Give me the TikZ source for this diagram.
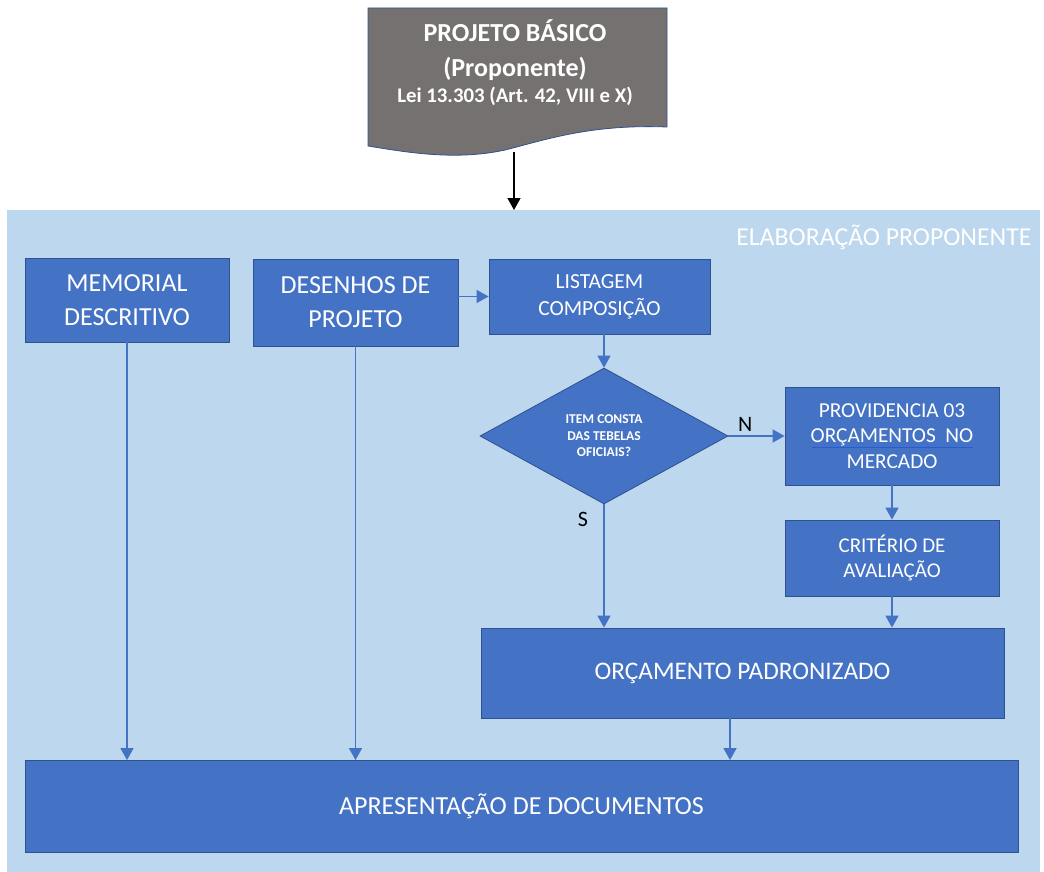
\documentclass[tikz,border=0pt]{standalone}
\usepackage{fontspec}
\setmainfont{Carlito}
\usetikzlibrary{shapes.geometric,arrows.meta}
\definecolor{boxblue}{HTML}{4472C4}
\definecolor{boxline}{HTML}{2F528F}
\definecolor{areablue}{HTML}{BDD7EE}
\definecolor{docgray}{HTML}{767171}
\definecolor{spellblue}{HTML}{2A5BD7}

\begin{document}
\begin{tikzpicture}[x=1pt,y=-1pt,
  blk/.style={draw=boxline,fill=boxblue,text=white,align=center,inner sep=0pt,
    line width=0.8pt,font=\fontsize{26}{34}\selectfont},
  arr/.style={-{Triangle[width=13pt,length=12pt]},color=boxblue,line width=1.4pt},
  lbl/.style={text=black,font=\fontsize{22}{24}\selectfont}]
  \useasboundingbox (0,0) rectangle (1044,872);
  % area of the proponent
  \fill[areablue] (7,210) rectangle (1040,872);
  \coordinate (areatop) at (514,210);
  \node[anchor=east,text=white,font=\fontsize{25.8}{28}\selectfont] (areatitle) at (1035,237) {ELABORAÇÃO PROPONENTE};
  % document shape on top
  \draw[fill=docgray,draw=boxline,line width=0.8pt] (368,8) -- (667,8) -- (667,127)
    .. controls (590,124) and (545,140) .. (505,150)
    .. controls (455,161) and (405,152) .. (368,146) -- cycle;
  \coordinate (docbot) at (514,152);
  \node[text=white,align=center,font=\fontsize{26}{35}\bfseries\selectfont] (doc) at (515,63)
    {PROJETO BÁSICO\\(Proponente)\\[-9pt]\fontsize{20.8}{26}\selectfont Lei 13.303 (Art. 42, VIII e X)};
  \draw[-{Triangle[width=13pt,length=12pt]},line width=1.4pt] (docbot) -- (areatop);
  % blocks
  \node[blk,minimum width=204pt,minimum height=84pt,font=\fontsize{26}{33.5}\selectfont] (memorial) at (127,300) {MEMORIAL\\DESCRITIVO};
  \node[blk,minimum width=205pt,minimum height=87pt] (desenhos) at (355.5,302.5) {DESENHOS DE\\PROJETO};
  \node[blk,minimum width=221pt,minimum height=75pt,font=\fontsize{21.5}{27}\selectfont] (listagem) at (599.5,296.5) {LISTAGEM\\COMPOSIÇÃO};
  \node[blk,diamond,aspect=1.82,minimum width=248pt,minimum height=136pt,font=\fontsize{13.5}{16.5}\bfseries\selectfont] (decisao) at (604,436) {ITEM CONSTA\\DAS TEBELAS\\OFICIAIS?};
  \node[blk,minimum width=214pt,minimum height=98pt,font=\fontsize{21.3}{25.5}\selectfont] (providencia) at (892,436) {PROVIDENCIA 03\\ORÇAMENTOS\ \ NO\\MERCADO};
  \draw[spellblue,line width=1pt] ([shift={(-80,11)}]providencia.center) -- ([shift={(81,11)}]providencia.center);
  \node[blk,minimum width=214pt,minimum height=76pt,font=\fontsize{21}{25}\selectfont] (criterio) at (892,558) {CRITÉRIO DE\\AVALIAÇÃO};
  \node[blk,minimum width=523pt,minimum height=90pt,font=\fontsize{25.3}{30}\selectfont] (orcamento) at (742.5,673) {ORÇAMENTO PADRONIZADO};
  \node[blk,minimum width=993pt,minimum height=92pt] (apresentacao) at (521.5,806.5) {APRESENTAÇÃO DE DOCUMENTOS};
  % connectors
  \path[arr] (desenhos.east |- listagem.west) edge (listagem.west)
    (decisao.north |- listagem.south) edge (decisao.north)
    (decisao.east) edge node[lbl,pos=0.3,above] {N} (decisao.east -| providencia.west)
    (decisao.south) edge node[lbl,pos=0.12,left=12pt] {S} (decisao.south |- orcamento.north)
    (providencia) edge (criterio)
    (criterio) edge (criterio |- orcamento.north)
    (memorial) edge (memorial |- apresentacao.north)
    (desenhos) edge (desenhos |- apresentacao.north)
    ([xshift=-12.5pt]orcamento.south) edge ([xshift=-12.5pt]orcamento.south |- apresentacao.north);
\end{tikzpicture}
\end{document}
